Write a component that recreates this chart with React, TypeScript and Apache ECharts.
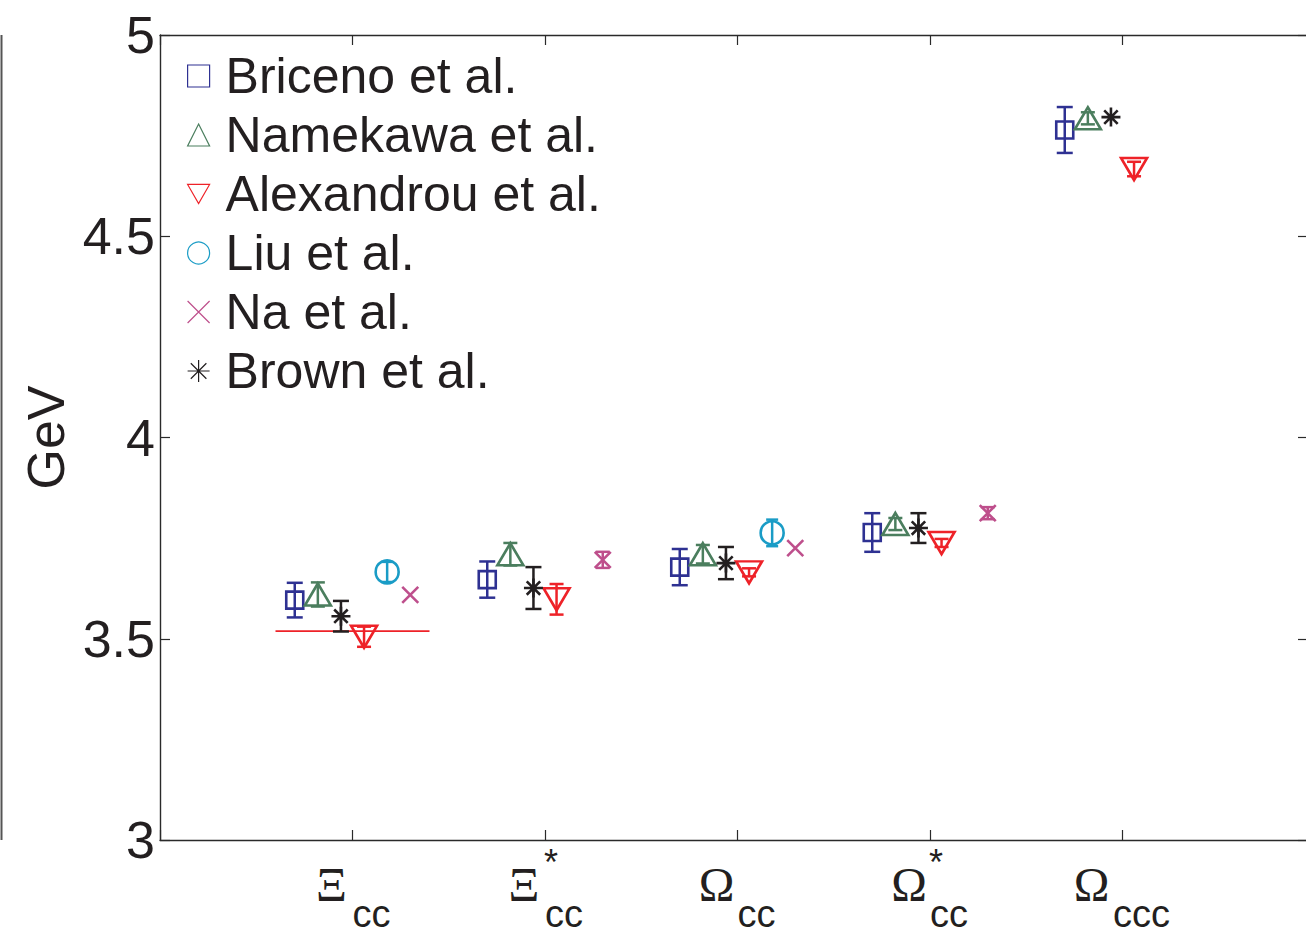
import React, { useEffect, useRef } from 'react';
import * as echarts from 'echarts';

// ---- data ----
const categoryGreek = ['Ξ', 'Ξ', 'Ω', 'Ω', 'Ω'];
const categorySub = ['cc', 'cc', 'cc', 'cc', 'ccc'];
const categoryStar = [false, true, false, true, false];
const yTicks = [3, 3.5, 4, 4.5, 5];

const bricenoMass = [3.596, 3.647, 3.678, 3.764, 4.764];
const bricenoErr = [0.043, 0.045, 0.045, 0.048, 0.057];
const namekawaMass = [3.61, 3.71, 3.71, 3.785, 4.793];
const namekawaErr = [0.03, 0.028, 0.023, 0.015, 0.015];
const alexandrouMass = [3.505, 3.598, 3.665, 3.738, 4.667];
const alexandrouErr = [0.025, 0.038, 0.01, 0.01, 0.018];
const liuMass = [3.666, null, 3.763, null, null];
const liuErr = [0.025, null, 0.033, null, null];
const naMass = [3.609, 3.696, 3.725, 3.812, null];
const naErr = [0, 0.02, 0, 0.015, null];
const brownMass = [3.556, 3.626, 3.688, 3.775, 4.796];
const brownErr = [0.038, 0.052, 0.04, 0.037, 0];
const experimentXiCC = 3.519;
const experimentSpan = [0.6, 1.4];

const groups = [
  { name: 'Briceno et al.', mass: bricenoMass, err: bricenoErr, offset: -0.3, color: '#2E3192', symbol: 'rect', size: 17, cap: 8 },
  { name: 'Namekawa et al.', mass: namekawaMass, err: namekawaErr, offset: -0.18, color: '#4B7E5E', symbol: 'triangle', size: [26, 22], cap: 7 },
  { name: 'Alexandrou et al.', mass: alexandrouMass, err: alexandrouErr, offset: 0.06, color: '#EE2228', symbol: 'path://M0,0L20,0L10,17.32Z', size: [26, 22], cap: 7 },
  { name: 'Liu et al.', mass: liuMass, err: liuErr, offset: 0.18, color: '#1A9CC6', symbol: 'circle', size: 23, cap: 6 },
  { name: 'Na et al.', mass: naMass, err: naErr, offset: 0.3, color: '#BE4F8C', symbol: 'path://M0,0L10,10M0,10L10,0', size: 16, cap: 7 },
  { name: 'Brown et al.', mass: brownMass, err: brownErr, offset: -0.06, color: '#231F20', symbol: 'path://M5,0L5,10M0,5L10,5M1.46,1.46L8.54,8.54M1.46,8.54L8.54,1.46', size: 19, cap: 8 },
];

const legendOrder = ['Briceno et al.', 'Namekawa et al.', 'Alexandrou et al.', 'Liu et al.', 'Na et al.', 'Brown et al.'];

const TEXT = '#231F20';
const AXIS = '#2a2a2a';

export default function App() {
  const ref = useRef<HTMLDivElement>(null);
  useEffect(() => {
    if (!ref.current) return;
    const chart = echarts.init(ref.current, null, { renderer: 'svg' });

    const series: any[] = [];
    groups.forEach((g) => {
      const pts = g.mass
        .map((m, i) => (m == null ? null : [i + 1 + g.offset, m, g.err[i] || 0]))
        .filter(Boolean) as number[][];
      series.push({
        name: g.name + ' err',
        type: 'custom',
        xAxisIndex: 0,
        yAxisIndex: 0,
        data: pts,
        encode: { x: 0, y: 1 },
        silent: true,
        z: 3,
        renderItem: (params: any, api: any) => {
          const x = api.value(0), y = api.value(1), e = api.value(2);
          if (!e) return { type: 'group', children: [] };
          const top = api.coord([x, y + e]);
          const bot = api.coord([x, y - e]);
          const st = { stroke: g.color, lineWidth: 2.5 };
          return {
            type: 'group',
            children: [
              { type: 'line', shape: { x1: top[0], y1: top[1], x2: bot[0], y2: bot[1] }, style: st },
              { type: 'line', shape: { x1: top[0] - g.cap, y1: top[1], x2: top[0] + g.cap, y2: top[1] }, style: st },
              { type: 'line', shape: { x1: bot[0] - g.cap, y1: bot[1], x2: bot[0] + g.cap, y2: bot[1] }, style: st },
            ],
          };
        },
      });
      series.push({
        name: g.name,
        type: 'scatter',
        xAxisIndex: 0,
        yAxisIndex: 0,
        data: pts.map((p) => [p[0], p[1]]),
        symbol: g.symbol,
        symbolSize: g.size,
        z: 4,
        itemStyle: { color: 'rgba(255,255,255,0)', borderColor: g.color, borderWidth: 2.6, opacity: 1 },
        emphasis: { disabled: true },
      });
    });
    series.push({
      name: 'experiment',
      type: 'line',
      xAxisIndex: 0,
      yAxisIndex: 0,
      data: [[experimentSpan[0], experimentXiCC], [experimentSpan[1], experimentXiCC]],
      symbol: 'none',
      lineStyle: { color: '#EE2228', width: 1.6 },
      z: 2,
      silent: true,
    });

    const labelFor = (v: number) => {
      const i = Math.round(v) - 1;
      if (Math.abs(v - Math.round(v)) > 1e-6 || i < 0 || i > 4) return '';
      const sub = categorySub[i];
      const sStyle = sub.length === 3 ? 's3' : 's';
      const starLine = categoryStar[i] ? '{e| }{st|*}' : '{e| }{st| }';
      return starLine + '\n' + '{g|' + categoryGreek[i] + '}{' + sStyle + '|' + sub + '}';
    };

    const tickStyle = { inside: true, length: 10, lineStyle: { color: AXIS, width: 1.2 } };
    const lineStyleAx = { lineStyle: { color: AXIS, width: 1.4 } };

    chart.setOption({
      animation: false,
      backgroundColor: '#ffffff',
      grid: { left: 160, top: 35, width: 1155, height: 805, containLabel: false, outerBoundsMode: 'none' },
      legend: {
        orient: 'vertical',
        left: 182,
        top: 46,
        itemWidth: 22,
        itemHeight: 22,
        itemGap: 9,
        data: legendOrder,
        itemStyle: { borderWidth: 1.2 },
        selectedMode: false,
        formatter: (name: string) => '{sp|}' + name,
        textStyle: {
          fontFamily: 'Liberation Sans, Arial, sans-serif',
          fontSize: 50,
          color: TEXT,
          lineHeight: 50,
          rich: { sp: { width: 11 } },
        },
      },
      xAxis: [
        {
          type: 'value',
          min: 0,
          max: 6,
          interval: 1,
          position: 'bottom',
          axisLine: { show: true, onZero: false, ...lineStyleAx },
          axisTick: tickStyle,
          splitLine: { show: false },
          axisLabel: {
            margin: 10,
            formatter: labelFor,
            rich: {
              e: { width: 12, lineHeight: 13, fontSize: 12 },
              st: { width: 12, fontSize: 36, lineHeight: 13, height: 1, verticalAlign: 'bottom', fontFamily: 'Liberation Sans, Arial', color: TEXT },
              g: { width: 38, align: 'center', fontSize: 48, lineHeight: 66, height: 42, verticalAlign: 'top', fontFamily: 'Liberation Serif, Times New Roman, serif', color: TEXT },
              s: { width: 42, align: 'left', fontSize: 38, lineHeight: 66, height: 30, verticalAlign: 'bottom', fontFamily: 'Liberation Sans, Arial', color: TEXT },
              s3: { width: 62, align: 'left', fontSize: 38, lineHeight: 66, height: 30, verticalAlign: 'bottom', fontFamily: 'Liberation Sans, Arial', color: TEXT },
            },
          },
        },
        {
          type: 'value',
          min: 0,
          max: 6,
          interval: 1,
          position: 'top',
          axisLine: { show: true, onZero: false, ...lineStyleAx },
          axisTick: tickStyle,
          axisLabel: { show: false },
          splitLine: { show: false },
        },
      ],
      yAxis: [
        {
          type: 'value',
          min: yTicks[0],
          max: yTicks[yTicks.length - 1],
          interval: 0.5,
          position: 'left',
          axisLine: { show: true, onZero: false, ...lineStyleAx },
          axisTick: tickStyle,
          splitLine: { show: false },
          axisLabel: {
            margin: 5,
            fontSize: 52,
            color: TEXT,
            fontFamily: 'Liberation Sans, Arial, sans-serif',
          },
          name: 'GeV',
          nameLocation: 'middle',
          nameGap: 86,
          nameTextStyle: { fontSize: 52, color: TEXT, fontFamily: 'Liberation Sans, Arial, sans-serif' },
        },
        {
          type: 'value',
          min: yTicks[0],
          max: yTicks[yTicks.length - 1],
          interval: 0.5,
          position: 'right',
          axisLine: { show: true, onZero: false, ...lineStyleAx },
          axisTick: { inside: true, length: 17, lineStyle: { color: AXIS, width: 1.2 } },
          axisLabel: { show: false },
          splitLine: { show: false },
        },
      ],
      graphic: [
        {
          type: 'line',
          shape: { x1: 1.5, y1: 35, x2: 1.5, y2: 840 },
          style: { stroke: '#555', lineWidth: 2 },
          silent: true,
        },
      ],
      series,
    });
    return () => chart.dispose();
  }, []);
  return <div ref={ref} style={{ position: 'absolute', left: 0, top: 0, width: 1306, height: 934 }} />;
}
